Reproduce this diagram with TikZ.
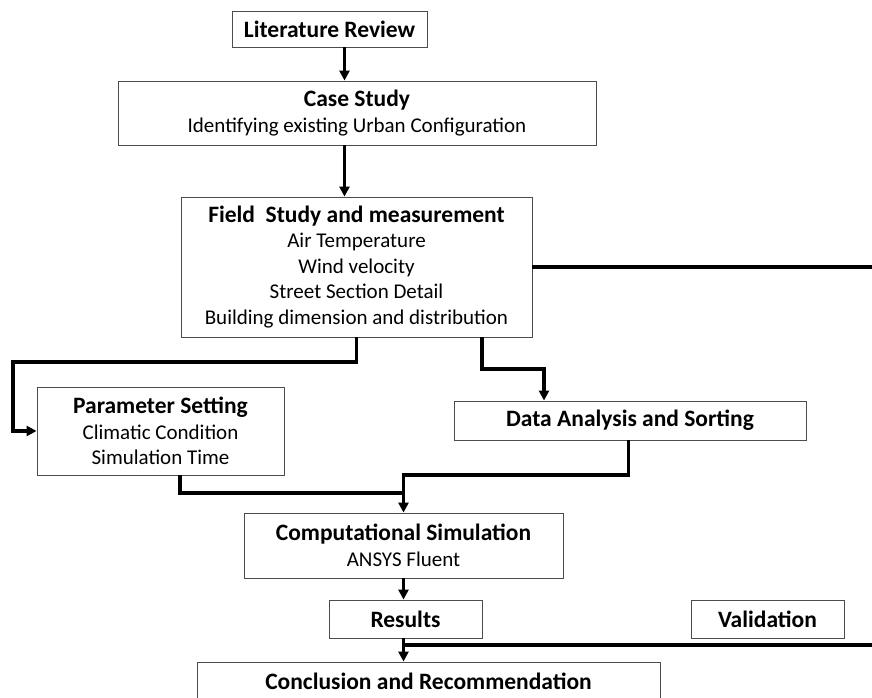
\documentclass[tikz,border=0pt]{standalone}
\usepackage{fontspec}
\setmainfont{Carlito}
\usetikzlibrary{arrows.meta}
\newcommand{\ttl}[1]{{\fontsize{23.5}{26}\selectfont\bfseries #1}}
\tikzset{
  box/.style={draw=black!70, line width=0.9pt, inner sep=0pt, align=center, font=\fontsize{21}{25.5}\selectfont},
  conn/.style={line width=3.3pt, draw=black},
  arr/.style={conn, -{Triangle[length=10pt,width=10pt]}}
}
\begin{document}
\begin{tikzpicture}[x=1pt,y=-1pt]
\useasboundingbox (0,0) rectangle (872,698);
\clip (0,0) rectangle (872,698);
\node[box, minimum width=195pt, minimum height=36pt] (lit) at (329.5,29) {\ttl{Literature Review}};
\node[box, minimum width=478pt, minimum height=64pt] (case) at (357,113) {\ttl{Case Study}\\Identifying existing Urban Configuration};
\node[box, minimum width=351pt, minimum height=140pt] (field) at (356.5,267) {\ttl{Field\ \ Study and measurement}\\Air Temperature\\Wind velocity\\Street Section Detail\\Building dimension and distribution};
\node[box, minimum width=247pt, minimum height=88pt] (param) at (160.5,431) {\ttl{Parameter Setting}\\Climatic Condition\\Simulation Time};
\node[box, minimum width=352pt, minimum height=39pt] (data) at (630,420.5) {\ttl{Data Analysis and Sorting}};
\node[box, minimum width=319pt, minimum height=65pt] (comp) at (403.5,545.5) {\ttl{Computational Simulation}\\ANSYS Fluent};
\node[box, minimum width=153pt, minimum height=38pt] (res) at (405.5,619) {\ttl{Results}};
\node[box, minimum width=153pt, minimum height=38pt] (val) at (767.5,619) {\ttl{Validation}};
\node[box, minimum width=463pt, minimum height=38pt] (concl) at (428.5,681) {\ttl{Conclusion and Recommendation}};
\coordinate (xa) at (344.5,0);
\coordinate (ly) at (0,362);
\coordinate (lx) at (13,0);
\coordinate (r1) at (482,369);
\coordinate (xd) at (544,0);
\coordinate (d1) at (628.5,475);
\coordinate (p1) at (180,493);
\coordinate (fe) at (880,0);
\coordinate (v1) at (403.5,645);
\draw[arr] (lit.south -| xa) -- (case.north -| xa);
\draw[arr] (case.south -| xa) -- (field.north -| xa);
\draw[conn] (field.east) -- (field.east -| fe);
\draw[arr] (field.south) -- (field.south |- ly) -| (lx |- param.west) -- (param.west);
\draw[arr] (field.south -| r1) -- (r1) -| (data.north -| xd);
\draw[arr] (data.south -| d1) -- (d1) -| (comp.north);
\draw[conn] (param.south -| p1) -- (p1) -- (p1 -| comp.north);
\draw[arr] (comp.south) -- (res.north -| comp.south);
\draw[arr] (res.south -| comp.south) -- (concl.north -| comp.south);
\draw[conn] (v1) -- (v1 -| fe);
\end{tikzpicture}
\end{document}
